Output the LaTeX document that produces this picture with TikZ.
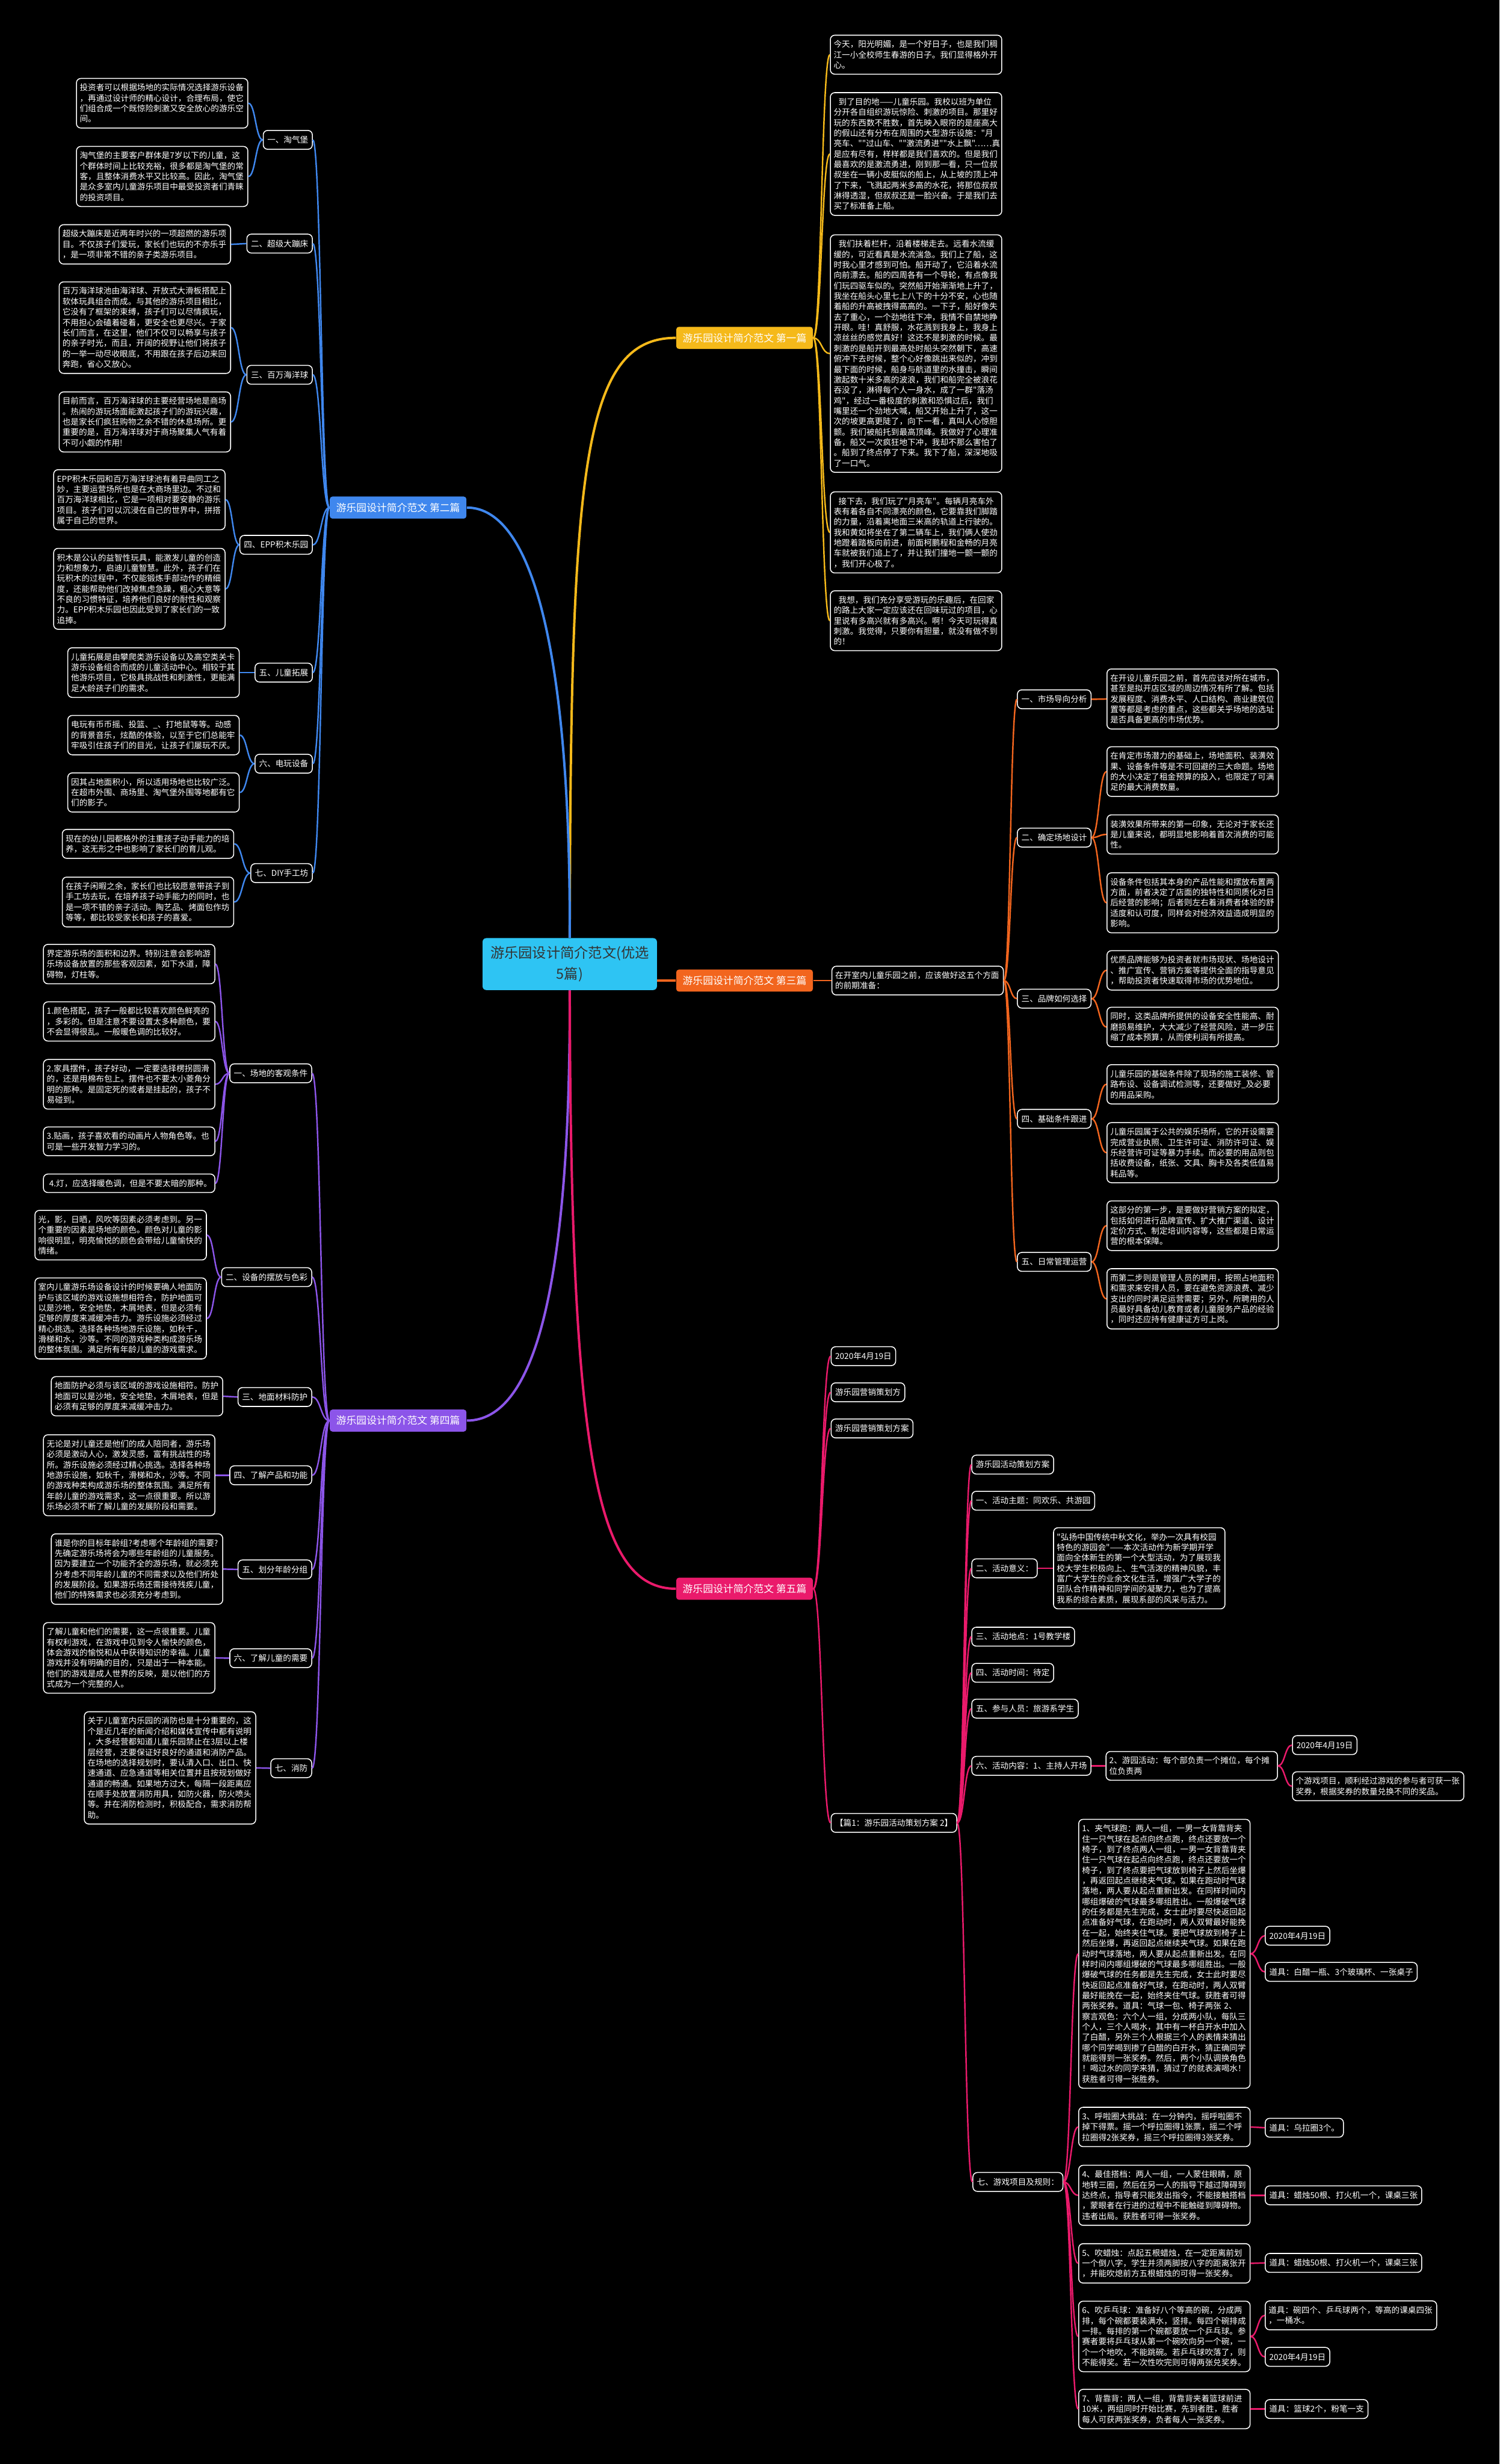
\documentclass[tikz,border=0pt]{standalone}
\usepackage{fontspec}
\newfontfamily\cjk{Noto Sans CJK SC}
\usetikzlibrary{calc}

\definecolor{rootc}{HTML}{2EC4F3}
\definecolor{c1}{HTML}{F5B91A}
\definecolor{c2}{HTML}{3F87EE}
\definecolor{c3}{HTML}{F2651E}
\definecolor{c4}{HTML}{8C55E9}
\definecolor{c5}{HTML}{EA1A6B}

\tikzset{
  txtbox/.style={draw=white, fill=black, text=white, rounded corners=2.4pt, line width=0.5pt,
    font=\cjk\fontsize{4.45}{5.67}\selectfont, align=left, text width=89.5pt,
    inner xsep=1.8pt, inner ysep=2.9pt},
  lbl/.style={draw=white, fill=black, text=white, rounded corners=2.4pt, line width=0.5pt,
    font=\cjk\fontsize{4.45}{5.67}\selectfont, inner xsep=2.2pt, inner ysep=1pt,
    minimum height=10.25pt},
  ttl/.style={rounded corners=1.5pt, text=white, font=\cjk\fontsize{5.5}{6.6}\selectfont,
    inner xsep=3.5pt, inner ysep=1pt, minimum height=12pt},
  link/.style={line width=0.8pt},
  trunk/.style={line width=1.3pt}
}

% curved connector between two anchors
\newcommand{\mmlink}[3][]{\draw[link,#1] let \p1=(#2), \p2=(#3) in
  (\p1) .. controls ({(\x1+\x2)/2},\y1) and ({(\x1+\x2)/2},\y2) .. (\p2);}

\begin{document}
\begin{tikzpicture}[x=0.3mm, y=-0.3mm]
  \useasboundingbox (0,0) rectangle (954,1568);
  \fill[black] (0,0) rectangle (954,1568);

  % Root
  \node[fill=rootc, rounded corners=2pt, minimum width=94.7pt, minimum height=28.2pt,
    align=center, text=black!80, font=\cjk\fontsize{7.6}{11.6}\selectfont]
    (root) at (362.5,613.5) {游乐园设计简介范文(优选\\5篇)};

  % Titles
  \node[ttl, fill=c1, anchor=west] (p1) at (430,215) {游乐园设计简介范文 第一篇};
  \node[ttl, fill=c2, anchor=east] (p2) at (297,323) {游乐园设计简介范文 第二篇};
  \node[ttl, fill=c3, anchor=west] (p3) at (430,624) {游乐园设计简介范文 第三篇};
  \node[ttl, fill=c4, anchor=east] (p4) at (297,904) {游乐园设计简介范文 第四篇};
  \node[ttl, fill=c5, anchor=west] (p5) at (430,1011) {游乐园设计简介范文 第五篇};

  \draw[trunk, c1] (root.north) .. controls (363,300) and (370,215) .. (p1.west);
  \draw[trunk, c2] (root.north) .. controls (363,420) and (340,323) .. (p2.east);
  \draw[trunk, c3] (root.east |- p3.west) -- (p3.west);
  \draw[trunk, c4] (root.south) .. controls (363,820) and (340,904) .. (p4.east);
  \draw[trunk, c5] (root.south) .. controls (363,930) and (380,1011) .. (p5.west);

  % First essay
  \node[txtbox, anchor=west] (p1a) at (528,34.8) {今天，阳光明媚，是一个好日子，也是我们稠\\江一小全校师生春游的日子。我们显得格外开\\心。};
  \node[txtbox, anchor=west] (p1b) at (528,98) {\hspace*{0.6em}到了目的地——儿童乐园。我校以班为单位\\分开各自组织游玩惊险、刺激的项目。那里好\\玩的东西数不胜数，首先映入眼帘的是座高大\\的假山还有分布在周围的大型游乐设施："月\\亮车、""过山车、""激流勇进""水上飘"……真\\是应有尽有，样样都是我们喜欢的。但是我们\\最喜欢的是激流勇进，刚到那一看，只一位叔\\叔坐在一辆小皮艇似的船上，从上坡的顶上冲\\了下来，飞溅起两米多高的水花，将那位叔叔\\淋得透湿，但叔叔还是一脸兴奋。于是我们去\\买了标准备上船。};
  \node[txtbox, anchor=west] (p1c) at (528,225) {\hspace*{0.6em}我们扶着栏杆，沿着楼梯走去。远看水流缓\\缓的，可近看真是水流湍急。我们上了船，这\\时我心里才感到可怕。船开动了，它沿着水流\\向前漂去。船的四周各有一个导轮，有点像我\\们玩四驱车似的。突然船开始渐渐地上升了，\\我坐在船头心里七上八下的十分不安，心也随\\着船的升高被拽得高高的。一下子，船好像失\\去了重心，一个劲地往下冲，我情不自禁地睁\\开眼。哇！真舒服，水花溅到我身上，我身上\\凉丝丝的感觉真好！这还不是刺激的时候。最\\刺激的是船开到最高处时船头突然朝下，高速\\俯冲下去时候，整个心好像跳出来似的，冲到\\最下面的时候，船身与航道里的水撞击，瞬间\\激起数十米多高的波浪，我们和船完全被浪花\\吞没了，淋得每个人一身水，成了一群"落汤\\鸡"，经过一番极度的刺激和恐惧过后，我们\\嘴里还一个劲地大喊，船又开始上升了，这一\\次的坡更高更陡了，向下一看，真叫人心惊胆\\颤。我们被船托到最高顶峰。我做好了心理准\\备，船又一次疯狂地下冲，我却不那么害怕了\\。船到了终点停了下来。我下了船，深深地吸\\了一口气。};
  \node[txtbox, anchor=west] (p1d) at (528,338.8) {\hspace*{0.6em}接下去，我们玩了"月亮车"。每辆月亮车外\\表有着各自不同漂亮的颜色，它要靠我们脚踏\\的力量，沿着离地面三米高的轨道上行驶的。\\我和黄如将坐在了第二辆车上，我们俩人使劲\\地蹬着踏板向前进，前面柯鹏程和金畅的月亮\\车就被我们追上了，并让我们撞地一颤一颤的\\，我们开心极了。};
  \node[txtbox, anchor=west] (p1e) at (528,395) {\hspace*{0.6em}我想，我们充分享受游玩的乐趣后，在回家\\的路上大家一定应该还在回味玩过的项目，心\\里说有多高兴就有多高兴。啊！今天可玩得真\\刺激。我觉得，只要你有胆量，就没有做不到\\的！};

  \mmlink[c1]{p1.east}{p1a.west}
  \mmlink[c1]{p1.east}{p1b.west}
  \mmlink[c1]{p1.east}{p1c.west}
  \mmlink[c1]{p1.east}{p1d.west}
  \mmlink[c1]{p1.east}{p1e.west}

  % Second essay
  \node[lbl, anchor=east] (p2s1) at (199,89) {一、淘气堡};
  \node[lbl, anchor=east] (p2s2) at (199,155) {二、超级大蹦床};
  \node[lbl, anchor=east] (p2s3) at (199,238.5) {三、百万海洋球};
  \node[lbl, anchor=east] (p2s4) at (199,346.7) {四、EPP积木乐园};
  \node[lbl, anchor=east] (p2s5) at (199,428) {五、儿童拓展};
  \node[lbl, anchor=east] (p2s6) at (199,486) {六、电玩设备};
  \node[lbl, anchor=east] (p2s7) at (199,555.6) {七、DIY手工坊};

  \node[txtbox, anchor=east] (p2s1a) at (158,65.7) {投资者可以根据场地的实际情况选择游乐设备\\，再通过设计师的精心设计，合理布局，使它\\们组合成一个既惊险刺激又安全放心的游乐空\\间。};
  \node[txtbox, anchor=east] (p2s1b) at (158,112.3) {淘气堡的主要客户群体是7岁以下的儿童，这\\个群体时间上比较充裕，很多都是淘气堡的常\\客，且整体消费水平又比较高。因此，淘气堡\\是众多室内儿童游乐项目中最受投资者们青睐\\的投资项目。};
  \node[txtbox, anchor=east] (p2s2a) at (147,155.5) {超级大蹦床是近两年时兴的一项超燃的游乐项\\目。不仅孩子们爱玩，家长们也玩的不亦乐乎\\，是一项非常不错的亲子类游乐项目。};
  \node[txtbox, anchor=east] (p2s3a) at (147,208.5) {百万海洋球池由海洋球、开放式大滑板搭配上\\软体玩具组合而成。与其他的游乐项目相比，\\它没有了框架的束缚，孩子们可以尽情疯玩，\\不用担心会磕着碰着，更安全也更尽兴。于家\\长们而言，在这里，他们不仅可以畅享与孩子\\的亲子时光，而且，开阔的视野让他们将孩子\\的一举一动尽收眼底，不用跟在孩子后边来回\\奔跑，省心又放心。};
  \node[txtbox, anchor=east] (p2s3b) at (147,268.5) {目前而言，百万海洋球的主要经营场地是商场\\。热闹的游玩场面能激起孩子们的游玩兴趣，\\也是家长们疯狂购物之余不错的休息场所。更\\重要的是，百万海洋球对于商场聚集人气有着\\不可小觑的作用!};
  \node[txtbox, anchor=east] (p2s4a) at (143.5,318) {EPP积木乐园和百万海洋球池有着异曲同工之\\妙，主要运营场所也是在大商场里边。不过和\\百万海洋球相比，它是一项相对要安静的游乐\\项目。孩子们可以沉浸在自己的世界中，拼搭\\属于自己的世界。};
  \node[txtbox, anchor=east] (p2s4b) at (143.5,374.7) {积木是公认的益智性玩具，能激发儿童的创造\\力和想象力，启迪儿童智慧。此外，孩子们在\\玩积木的过程中，不仅能锻炼手部动作的精细\\度，还能帮助他们改掉焦虑急躁，粗心大意等\\不良的习惯特征，培养他们良好的耐性和观察\\力。EPP积木乐园也因此受到了家长们的一致\\追捧。};
  \node[txtbox, anchor=east] (p2s5a) at (152.5,428) {儿童拓展是由攀爬类游乐设备以及高空类关卡\\游乐设备组合而成的儿童活动中心。相较于其\\他游乐项目，它极具挑战性和刺激性，更能满\\足大龄孩子们的需求。};
  \node[txtbox, anchor=east] (p2s6a) at (152.5,467.8) {电玩有币币摇、投篮、\_、打地鼠等等。动感\\的背景音乐，炫酷的体验，以至于它们总能牢\\牢吸引住孩子们的目光，让孩子们屡玩不厌。};
  \node[txtbox, anchor=east] (p2s6b) at (152.5,504.3) {因其占地面积小，所以适用场地也比较广泛。\\在超市外围、商场里、淘气堡外围等地都有它\\们的影子。};
  \node[txtbox, anchor=east] (p2s7a) at (149,537) {现在的幼儿园都格外的注重孩子动手能力的培\\养，这无形之中也影响了家长们的育儿观。};
  \node[txtbox, anchor=east] (p2s7b) at (149,574) {在孩子闲暇之余，家长们也比较愿意带孩子到\\手工坊去玩，在培养孩子动手能力的同时，也\\是一项不错的亲子活动。陶艺品、烤面包作坊\\等等，都比较受家长和孩子的喜爱。};

  \mmlink[c2]{p2.west}{p2s1.east}
  \mmlink[c2]{p2.west}{p2s2.east}
  \mmlink[c2]{p2.west}{p2s3.east}
  \mmlink[c2]{p2.west}{p2s4.east}
  \mmlink[c2]{p2.west}{p2s5.east}
  \mmlink[c2]{p2.west}{p2s6.east}
  \mmlink[c2]{p2.west}{p2s7.east}
  \mmlink[c2]{p2s1.west}{p2s1a.east}
  \mmlink[c2]{p2s1.west}{p2s1b.east}
  \mmlink[c2]{p2s2.west}{p2s2a.east}
  \mmlink[c2]{p2s3.west}{p2s3a.east}
  \mmlink[c2]{p2s3.west}{p2s3b.east}
  \mmlink[c2]{p2s4.west}{p2s4a.east}
  \mmlink[c2]{p2s4.west}{p2s4b.east}
  \mmlink[c2]{p2s5.west}{p2s5a.east}
  \mmlink[c2]{p2s6.west}{p2s6a.east}
  \mmlink[c2]{p2s6.west}{p2s6b.east}
  \mmlink[c2]{p2s7.west}{p2s7a.east}
  \mmlink[c2]{p2s7.west}{p2s7b.east}

  % Third essay
  \node[txtbox, anchor=west] (p3i) at (529,624) {在开室内儿童乐园之前，应该做好这五个方面\\的前期准备：};
  \node[lbl, anchor=west] (p3s1) at (647,445) {一、市场导向分析};
  \node[lbl, anchor=west] (p3s2) at (647,533) {二、确定场地设计};
  \node[lbl, anchor=west] (p3s3) at (647,635.5) {三、品牌如何选择};
  \node[lbl, anchor=west] (p3s4) at (647,712) {四、基础条件跟进};
  \node[lbl, anchor=west] (p3s5) at (647,803) {五、日常管理运营};

  \node[txtbox, anchor=west] (p3s1a) at (704,444.8) {在开设儿童乐园之前，首先应该对所在城市，\\甚至是拟开店区域的周边情况有所了解。包括\\发展程度、消费水平、人口结构、商业建筑位\\置等都是考虑的重点，这些都关乎场地的选址\\是否具备更高的市场优势。};
  \node[txtbox, anchor=west] (p3s2a) at (704,491) {在肯定市场潜力的基础上，场地面积、装潢效\\果、设备条件等是不可回避的三大命题。场地\\的大小决定了租金预算的投入，也限定了可满\\足的最大消费数量。};
  \node[txtbox, anchor=west] (p3s2b) at (704,531) {装潢效果所带来的第一印象，无论对于家长还\\是儿童来说，都明显地影响着首次消费的可能\\性。};
  \node[txtbox, anchor=west] (p3s2c) at (704,574.5) {设备条件包括其本身的产品性能和摆放布置两\\方面，前者决定了店面的独特性和同质化对日\\后经营的影响；后者则左右着消费者体验的舒\\适度和认可度，同样会对经济效益造成明显的\\影响。};
  \node[txtbox, anchor=west] (p3s3a) at (704,617.5) {优质品牌能够为投资者就市场现状、场地设计\\、推广宣传、营销方案等提供全面的指导意见\\，帮助投资者快速取得市场的优势地位。};
  \node[txtbox, anchor=west] (p3s3b) at (704,653.5) {同时，这类品牌所提供的设备安全性能高、耐\\磨损易维护，大大减少了经营风险，进一步压\\缩了成本预算，从而使利润有所提高。};
  \node[txtbox, anchor=west] (p3s4a) at (704,690) {儿童乐园的基础条件除了现场的施工装修、管\\路布设、设备调试检测等，还要做好\_及必要\\的用品采购。};
  \node[txtbox, anchor=west] (p3s4b) at (704,733.5) {儿童乐园属于公共的娱乐场所，它的开设需要\\完成营业执照、卫生许可证、消防许可证、娱\\乐经营许可证等暴力手续。而必要的用品则包\\括收费设备，纸张、文具、胸卡及各类低值易\\耗品等。};
  \node[txtbox, anchor=west] (p3s5a) at (704,780) {这部分的第一步，是要做好营销方案的拟定，\\包括如何进行品牌宣传、扩大推广渠道、设计\\定价方式、制定培训内容等，这些都是日常运\\营的根本保障。};
  \node[txtbox, anchor=west] (p3s5b) at (704,826.5) {而第二步则是管理人员的聘用，按照占地面积\\和需求来安排人员，要在避免资源浪费、减少\\支出的同时满足运营需要；另外，所聘用的人\\员最好具备幼儿教育或者儿童服务产品的经验\\，同时还应持有健康证方可上岗。};

  \mmlink[c3]{p3.east}{p3i.west}
  \mmlink[c3]{p3i.east}{p3s1.west}
  \mmlink[c3]{p3i.east}{p3s2.west}
  \mmlink[c3]{p3i.east}{p3s3.west}
  \mmlink[c3]{p3i.east}{p3s4.west}
  \mmlink[c3]{p3i.east}{p3s5.west}
  \mmlink[c3]{p3s1.east}{p3s1a.west}
  \mmlink[c3]{p3s2.east}{p3s2a.west}
  \mmlink[c3]{p3s2.east}{p3s2b.west}
  \mmlink[c3]{p3s2.east}{p3s2c.west}
  \mmlink[c3]{p3s3.east}{p3s3a.west}
  \mmlink[c3]{p3s3.east}{p3s3b.west}
  \mmlink[c3]{p3s4.east}{p3s4a.west}
  \mmlink[c3]{p3s4.east}{p3s4b.west}
  \mmlink[c3]{p3s5.east}{p3s5a.west}
  \mmlink[c3]{p3s5.east}{p3s5b.west}

  % Fourth essay
  \node[lbl, anchor=east] (p4s1) at (198.6,683) {一、场地的客观条件};
  \node[lbl, anchor=east] (p4s2) at (198.6,812.7) {二、设备的摆放与色彩};
  \node[lbl, anchor=east] (p4s3) at (198.6,889) {三、地面材料防护};
  \node[lbl, anchor=east] (p4s4) at (198.6,938.8) {四、了解产品和功能};
  \node[lbl, anchor=east] (p4s5) at (198.6,998.7) {五、划分年龄分组};
  \node[lbl, anchor=east] (p4s6) at (198.6,1055.2) {六、了解儿童的需要};
  \node[lbl, anchor=east] (p4s7) at (198.6,1125.2) {七、消防};

  \node[txtbox, anchor=east] (p4s1a) at (137,613.5) {界定游乐场的面积和边界。特别注意会影响游\\乐场设备放置的那些客观因素，如下水道，障\\碍物，灯柱等。};
  \node[txtbox, anchor=east] (p4s1b) at (137,650) {1.颜色搭配，孩子一般都比较喜欢颜色鲜亮的\\，多彩的。但是注意不要设置太多种颜色，要\\不会显得很乱。一般暖色调的比较好。};
  \node[txtbox, anchor=east] (p4s1c) at (137,690) {2.家具摆件，孩子好动，一定要选择楞拐圆滑\\的，还是用棉布包上。摆件也不要太小菱角分\\明的那种。是固定死的或者是挂起的，孩子不\\易碰到。};
  \node[txtbox, anchor=east] (p4s1d) at (137,726.3) {3.贴画，孩子喜欢看的动画片人物角色等。也\\可是一些开发智力学习的。};
  \node[txtbox, anchor=east] (p4s1e) at (137,753) {\hspace*{0.3em}4.灯，应选择暖色调，但是不要太暗的那种。};
  \node[txtbox, anchor=east] (p4s2a) at (131.6,786) {光，影，日晒，风吹等因素必须考虑到。另一\\个重要的因素是场地的颜色。颜色对儿童的影\\响很明显，明亮愉悦的颜色会带给儿童愉快的\\情绪。};
  \node[txtbox, anchor=east] (p4s2b) at (131.6,839) {室内儿童游乐场设备设计的时候要确人地面防\\护与该区域的游戏设施想相符合，防护地面可\\以是沙地，安全地垫，木屑地表，但是必须有\\足够的厚度来减缓冲击力。游乐设施必须经过\\精心挑选。选择各种场地游乐设施，如秋千，\\滑梯和水，沙等。不同的游戏种类构成游乐场\\的整体氛围。满足所有年龄儿童的游戏需求。};
  \node[txtbox, anchor=east] (p4s3a) at (142,888.5) {地面防护必须与该区域的游戏设施相符。防护\\地面可以是沙地，安全地垫，木屑地表，但是\\必须有足够的厚度来减缓冲击力。};
  \node[txtbox, anchor=east] (p4s4a) at (137,938.8) {无论是对儿童还是他们的成人陪同者，游乐场\\必须是激动人心，激发灵感，富有挑战性的场\\所。游乐设施必须经过精心挑选。选择各种场\\地游乐设施，如秋千，滑梯和水，沙等。不同\\的游戏种类构成游乐场的整体氛围。满足所有\\年龄儿童的游戏需求，这一点很重要。所以游\\乐场必须不断了解儿童的发展阶段和需要。};
  \node[txtbox, anchor=east] (p4s5a) at (142,998.5) {谁是你的目标年龄组?考虑哪个年龄组的需要?\\先确定游乐场将会为哪些年龄组的儿童服务。\\因为要建立一个功能齐全的游乐场，就必须充\\分考虑不同年龄儿童的不同需求以及他们所处\\的发展阶段。如果游乐场还需接待残疾儿童，\\他们的特殊需求也必须充分考虑到。};
  \node[txtbox, anchor=east] (p4s6a) at (137,1055) {了解儿童和他们的需要，这一点很重要。儿童\\有权利游戏，在游戏中见到令人愉快的颜色，\\体会游戏的愉悦和从中获得知识的幸福。儿童\\游戏并没有明确的目的，只是出于一种本能。\\他们的游戏是成人世界的反映，是以他们的方\\式成为一个完整的人。};
  \node[txtbox, anchor=east] (p4s7a) at (163,1125) {关于儿童室内乐园的消防也是十分重要的，这\\个是近几年的新闻介绍和媒体宣传中都有说明\\，大多经营都知道儿童乐园禁止在3层以上楼\\层经营，还要保证好良好的通道和消防产品。\\在场地的选择规划时，要认清入口、出口、快\\速通道、应急通道等相关位置并且按规划做好\\通道的畅通。如果地方过大，每隔一段距离应\\在顺手处放置消防用具，如防火器，防火喷头\\等。并在消防检测时，积极配合，需求消防帮\\助。};

  \mmlink[c4]{p4.west}{p4s1.east}
  \mmlink[c4]{p4.west}{p4s2.east}
  \mmlink[c4]{p4.west}{p4s3.east}
  \mmlink[c4]{p4.west}{p4s4.east}
  \mmlink[c4]{p4.west}{p4s5.east}
  \mmlink[c4]{p4.west}{p4s6.east}
  \mmlink[c4]{p4.west}{p4s7.east}
  \mmlink[c4]{p4s1.west}{p4s1a.east}
  \mmlink[c4]{p4s1.west}{p4s1b.east}
  \mmlink[c4]{p4s1.west}{p4s1c.east}
  \mmlink[c4]{p4s1.west}{p4s1d.east}
  \mmlink[c4]{p4s1.west}{p4s1e.east}
  \mmlink[c4]{p4s2.west}{p4s2a.east}
  \mmlink[c4]{p4s2.west}{p4s2b.east}
  \mmlink[c4]{p4s3.west}{p4s3a.east}
  \mmlink[c4]{p4s4.west}{p4s4a.east}
  \mmlink[c4]{p4s5.west}{p4s5a.east}
  \mmlink[c4]{p4s6.west}{p4s6a.east}
  \mmlink[c4]{p4s7.west}{p4s7a.east}

  % Fifth essay
  \node[lbl, anchor=west] (p5a) at (528.5,863) {2020年4月19日};
  \node[lbl, anchor=west] (p5b) at (528.5,886) {游乐园营销策划方};
  \node[lbl, anchor=west] (p5c) at (528.5,909) {游乐园营销策划方案};
  \node[lbl, anchor=west] (p5d) at (528.5,1160) {【篇1：游乐园活动策划方案 2】};

  \node[lbl, anchor=west] (q1) at (618,932) {游乐园活动策划方案};
  \node[lbl, anchor=west] (q2) at (618,955) {一、活动主题：同欢乐、共游园};
  \node[lbl, anchor=west] (q3) at (618,998) {二、活动意义：};
  \node[lbl, anchor=west] (q4) at (618,1041.5) {三、活动地点：1号教学楼};
  \node[lbl, anchor=west] (q5) at (618,1064.5) {四、活动时间：待定};
  \node[lbl, anchor=west] (q6) at (618,1087.3) {五、参与人员：旅游系学生};
  \node[lbl, anchor=west] (q7) at (618,1123.7) {六、活动内容：1、主持人开场};
  \node[lbl, anchor=west] (q8) at (618.7,1388.5) {七、游戏项目及规则：};

  \node[txtbox, anchor=west] (q3a) at (670,998) {"弘扬中国传统中秋文化，举办一次具有校园\\特色的游园会"——本次活动作为新学期开学\\面向全体新生的第一个大型活动，为了展现我\\校大学生积极向上、生气活泼的精神风貌，丰\\富广大学生的业余文化生活，增强广大学子的\\团队合作精神和同学间的凝聚力，也为了提高\\我系的综合素质，展现系部的风采与活力。};
  \node[txtbox, anchor=west] (q7a) at (703.4,1123.7) {2、游园活动：每个部负责一个摊位，每个摊\\位负责两};
  \node[lbl, anchor=west] (q7b) at (822,1110.5) {2020年4月19日};
  \node[txtbox, anchor=west] (q7c) at (822,1136.7) {个游戏项目，顺利经过游戏的参与者可获一张\\奖券，根据奖券的数量兑换不同的奖品。};

  \node[txtbox, anchor=west] (g1) at (686,1243.3) {1、夹气球跑：两人一组，一男一女背靠背夹\\住一只气球在起点向终点跑，终点还要放一个\\椅子，到了终点两人一组，一男一女背靠背夹\\住一只气球在起点向终点跑，终点还要放一个\\椅子，到了终点要把气球放到椅子上然后坐爆\\，再返回起点继续夹气球。如果在跑动时气球\\落地，两人要从起点重新出发。在同样时间内\\哪组爆破的气球最多哪组胜出。一般爆破气球\\的任务都是先生完成，女士此时要尽快返回起\\点准备好气球，在跑动时，两人双臂最好能挽\\在一起，始终夹住气球。要把气球放到椅子上\\然后坐爆，再返回起点继续夹气球。如果在跑\\动时气球落地，两人要从起点重新出发。在同\\样时间内哪组爆破的气球最多哪组胜出。一般\\爆破气球的任务都是先生完成，女士此时要尽\\快返回起点准备好气球，在跑动时，两人双臂\\最好能挽在一起，始终夹住气球。获胜者可得\\两张奖券。道具：气球一包、椅子两张 2、\\察言观色：六个人一组，分成两小队，每队三\\个人，三个人喝水，其中有一杯白开水中加入\\了白醋，另外三个人根据三个人的表情来猜出\\哪个同学喝到掺了白醋的白开水，猜正确同学\\就能得到一张奖券。然后，两个小队调换角色\\！喝过水的同学来猜，猜过了的就表演喝水！\\获胜者可得一张胜券。};
  \node[txtbox, anchor=west] (g3) at (686,1353.5) {3、呼啦圈大挑战：在一分钟内，摇呼啦圈不\\掉下得票。摇一个呼拉圈得1张票，摇二个呼\\拉圈得2张奖券，摇三个呼拉圈得3张奖券。};
  \node[txtbox, anchor=west] (g4) at (686,1397) {4、最佳搭档：两人一组，一人蒙住眼睛，原\\地转三圈，然后在另一人的指导下越过障碍到\\达终点，指导者只能发出指令，不能接触搭档\\，蒙眼者在行进的过程中不能触碰到障碍物。\\违者出局。获胜者可得一张奖券。};
  \node[txtbox, anchor=west] (g5) at (686,1440.3) {5、吹蜡烛：点起五根蜡烛，在一定距离前划\\一个倒八字，学生并须两脚按八字的距离张开\\，并能吹熄前方五根蜡烛的可得一张奖券。};
  \node[txtbox, anchor=west] (g6) at (686,1486.8) {6、吹乒乓球：准备好八个等高的碗，分成两\\排，每个碗都要装满水，竖排。每四个碗排成\\一排。每排的第一个碗都要放一个乒乓球。参\\赛者要将乒乓球从第一个碗吹向另一个碗，一\\个一个地吹，不能跳碗。若乒乓球吹落了，则\\不能得奖。若一次性吹完则可得两张兑奖券。};
  \node[txtbox, anchor=west] (g7) at (686,1533) {7、背靠背：两人一组，背靠背夹着篮球前进\\10米，两组同时开始比赛，先到者胜，胜者\\每人可获两张奖券，负者每人一张奖券。};

  \node[lbl, anchor=west] (g1a) at (804.7,1231.8) {2020年4月19日};
  \node[lbl, anchor=west] (g1b) at (804.7,1254.8) {道具：白醋一瓶、3个玻璃杯、一张桌子};
  \node[lbl, anchor=west] (g3a) at (804.7,1354) {道具：乌拉圈3个。};
  \node[lbl, anchor=west] (g4a) at (804.7,1397) {道具：蜡烛50根、打火机一个，课桌三张};
  \node[lbl, anchor=west] (g5a) at (804.7,1440) {道具：蜡烛50根、打火机一个，课桌三张};
  \node[txtbox, anchor=west] (g6a) at (804.7,1473.4) {道具：碗四个、乒乓球两个，等高的课桌四张\\，一桶水。};
  \node[lbl, anchor=west] (g6b) at (804.7,1499.8) {2020年4月19日};
  \node[lbl, anchor=west] (g7a) at (804.7,1533) {道具：篮球2个，粉笔一支};

  \mmlink[c5]{p5.east}{p5a.west}
  \mmlink[c5]{p5.east}{p5b.west}
  \mmlink[c5]{p5.east}{p5c.west}
  \mmlink[c5]{p5.east}{p5d.west}
  \mmlink[c5]{p5d.east}{q1.west}
  \mmlink[c5]{p5d.east}{q2.west}
  \mmlink[c5]{p5d.east}{q3.west}
  \mmlink[c5]{p5d.east}{q4.west}
  \mmlink[c5]{p5d.east}{q5.west}
  \mmlink[c5]{p5d.east}{q6.west}
  \mmlink[c5]{p5d.east}{q7.west}
  \mmlink[c5]{p5d.east}{q8.west}
  \mmlink[c5]{q3.east}{q3a.west}
  \mmlink[c5]{q7.east}{q7a.west}
  \mmlink[c5]{q7a.east}{q7b.west}
  \mmlink[c5]{q7a.east}{q7c.west}
  \mmlink[c5]{q8.east}{g1.west}
  \mmlink[c5]{q8.east}{g3.west}
  \mmlink[c5]{q8.east}{g4.west}
  \mmlink[c5]{q8.east}{g5.west}
  \mmlink[c5]{q8.east}{g6.west}
  \mmlink[c5]{q8.east}{g7.west}
  \mmlink[c5]{g1.east}{g1a.west}
  \mmlink[c5]{g1.east}{g1b.west}
  \mmlink[c5]{g3.east}{g3a.west}
  \mmlink[c5]{g4.east}{g4a.west}
  \mmlink[c5]{g5.east}{g5a.west}
  \mmlink[c5]{g6.east}{g6a.west}
  \mmlink[c5]{g6.east}{g6b.west}
  \mmlink[c5]{g7.east}{g7a.west}
\end{tikzpicture}
\end{document}
